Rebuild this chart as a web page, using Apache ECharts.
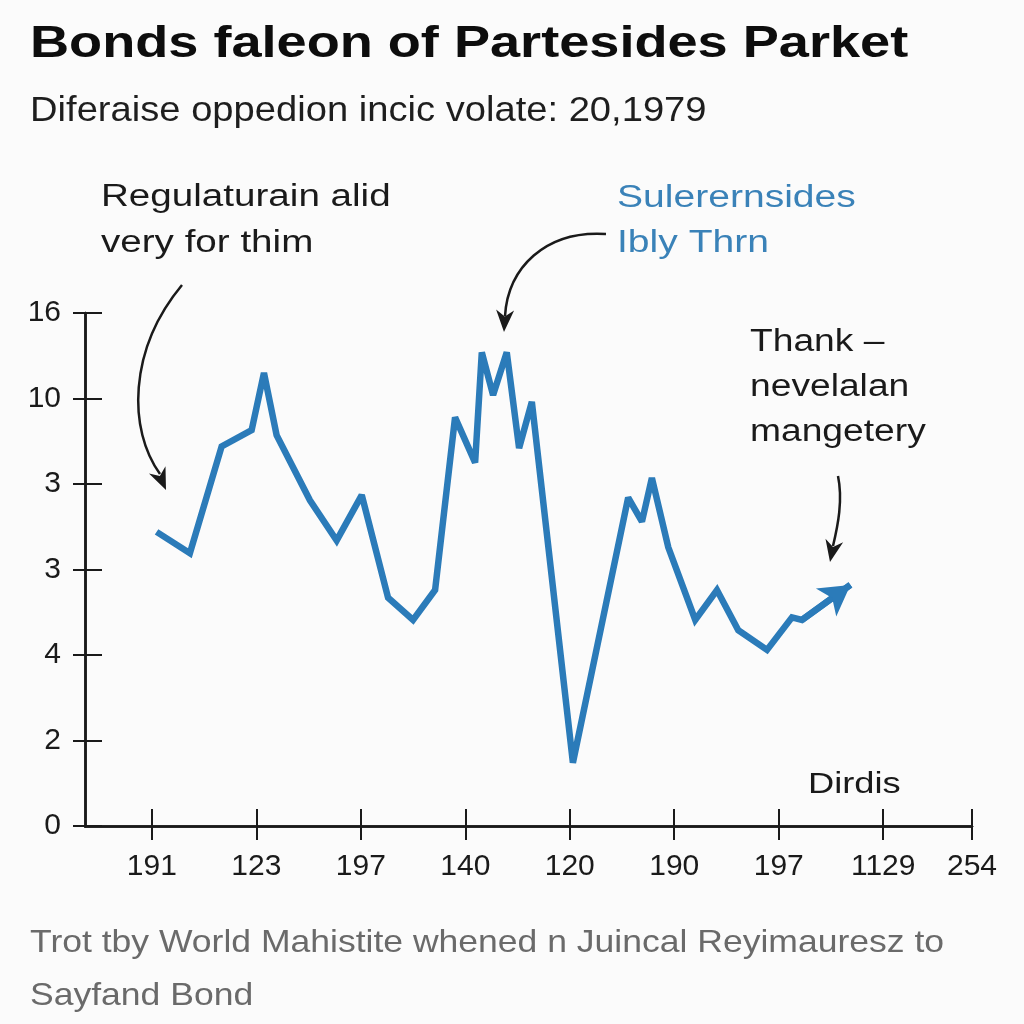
<!DOCTYPE html>
<html>
<head>
<meta charset="utf-8">
<script src="https://cdn.jsdelivr.net/npm/echarts@6/dist/echarts.min.js"></script>
<style>html,body{margin:0;padding:0;background:#fbfbfb;}#c{width:1024px;height:1024px;}</style>
</head>
<body>
<div id="c"></div>
<script>
// ---- data ----
const xValues = [0.045,0.364,0.668,0.955,1.073,1.194,1.513,1.769,2.009,2.261,2.500,2.711,2.902,3.094,3.158,3.266,3.397,3.515,3.637,4.030,4.559,4.691,4.786,4.943,5.201,5.409,5.613,5.888,6.127,6.223,6.686];
const yValues = [3.44,3.19,4.44,4.63,5.30,4.57,3.81,3.34,3.87,2.67,2.41,2.76,4.78,4.25,5.54,5.04,5.54,4.42,4.96,0.74,3.84,3.56,4.07,3.26,2.41,2.76,2.29,2.06,2.44,2.41,2.82];
const xTickValues = [0,1,2,3,4,5,6,7,7.85];
const xTickLabels = ['191','123','197','140','120','190','197','1129','254'];
const yTickLabels = ['0','2','4','3','3','10','16'];

const titleText = 'Bonds faleon of Partesides Parket';
const subtitleText = 'Diferaise oppedion incic volate: 20,1979';
const note1Lines = ['Regulaturain alid', 'very for thim'];
const note2Lines = ['Sulerernsides', 'Ibly Thrn'];
const note3Lines = ['Thank \u2013', 'nevelalan', 'mangetery'];
const axisNote = 'Dirdis';
const captionLines = ['Trot tby World Mahistite whened n Juincal Reyimauresz to', 'Sayfand Bond'];

const seriesData = xValues.map((x, i) => [x, yValues[i]]);
const n = seriesData.length;

const FONT = '"Liberation Sans", Arial, sans-serif';
const LINE = '#2b7bb9';
const INK = '#1a1a1a';

function xLabel(v) {
  for (let i = 0; i < xTickValues.length; i++) {
    if (Math.abs(xTickValues[i] - v) < 0.01) return xTickLabels[i];
  }
  return '';
}

function arrowHead(tx, ty, dx, dy, len, half) {
  const m = Math.sqrt(dx*dx + dy*dy); dx /= m; dy /= m;
  const px = -dy, py = dx;
  const bx = tx - dx*len, by = ty - dy*len;
  const nx = tx - dx*len*0.7, ny = ty - dy*len*0.7;
  return {
    type: 'polygon',
    shape: { points: [[tx,ty],[bx+px*half,by+py*half],[nx,ny],[bx-px*half,by-py*half]] },
    style: { fill: INK }
  };
}

// stretched text line (left edge fixed, vertically centred on y)
function textLine(str, x, y, font, fill, sx) {
  return {
    type: 'text', x: x, y: y, scaleX: sx, scaleY: 1,
    style: { text: str, font: font, fill: fill, align: 'left', verticalAlign: 'middle' }
  };
}

const chart = echarts.init(document.getElementById('c'), null, {renderer: 'canvas'});

const xAxisBase = {
  type: 'value', min: -0.64, max: 7.85,
  axisLine: { show: true, onZero: false, lineStyle: { color: INK, width: 2.5 } },
  splitLine: { show: false }
};
const yAxisBase = {
  type: 'value', min: 0, max: 6, interval: 1,
  axisLine: { show: true, onZero: false, lineStyle: { color: INK, width: 2.5 } },
  splitLine: { show: false }
};

const graphics = [
  textLine(titleText, 30, 45, 'bold 44px ' + FONT, '#0d0d0d', 1.23),
  textLine(subtitleText, 30, 111, '35px ' + FONT, '#1e1e1e', 1.09),
  textLine(axisNote, 808, 785, '30px ' + FONT, INK, 1.21)
];
note1Lines.forEach((s, i) => graphics.push(textLine(s, 101, 197 + i*46, '31px ' + FONT, INK, 1.245)));
note2Lines.forEach((s, i) => graphics.push(textLine(s, 617, 198 + i*45, '31px ' + FONT, '#3a82b8', 1.26)));
note3Lines.forEach((s, i) => graphics.push(textLine(s, 750, 342 + i*45, '31px ' + FONT, INK, 1.2)));
captionLines.forEach((s, i) => graphics.push(textLine(s, 30, 943 + i*53, '32px ' + FONT, '#6a6a6a', 1.11)));

graphics.push(
  { type: 'bezierCurve',
    shape: { x1: 182, y1: 285, cpx1: 128, cpy1: 350, cpx2: 128, cpy2: 430, x2: 160, y2: 474 },
    style: { stroke: INK, lineWidth: 2.5, fill: null } },
  arrowHead(166, 490, 0.4, 0.92, 22, 9),
  { type: 'bezierCurve',
    shape: { x1: 606, y1: 234, cpx1: 545, cpy1: 230, cpx2: 508, cpy2: 268, x2: 505, y2: 316 },
    style: { stroke: INK, lineWidth: 2.5, fill: null } },
  arrowHead(504, 332, -0.05, 1, 22, 9),
  { type: 'bezierCurve',
    shape: { x1: 838, y1: 476, cpx1: 843, cpy1: 500, cpx2: 838, cpy2: 525, x2: 833, y2: 546 },
    style: { stroke: INK, lineWidth: 2.5, fill: null } },
  arrowHead(830, 562, -0.2, 1, 22, 9)
);

chart.setOption({
  backgroundColor: '#fbfbfb',
  animation: false,
  grid: { left: 85, right: 52, top: 313, bottom: 198 },
  xAxis: [
    Object.assign({}, xAxisBase, {
      axisTick: { show: true, customValues: xTickValues, length: 14, lineStyle: { color: INK, width: 2 } },
      axisLabel: { show: true, customValues: xTickValues, formatter: xLabel, margin: 26,
        fontFamily: FONT, fontSize: 30, color: INK }
    }),
    Object.assign({}, xAxisBase, {
      axisTick: { show: true, inside: true, customValues: xTickValues, length: 17, lineStyle: { color: INK, width: 2 } },
      axisLabel: { show: false }, position: 'bottom'
    })
  ],
  yAxis: [
    Object.assign({}, yAxisBase, {
      axisTick: { show: true, length: 12, lineStyle: { color: INK, width: 2 } },
      axisLabel: { show: true, formatter: v => yTickLabels[v], margin: 24,
        fontFamily: FONT, fontSize: 30, color: INK }
    }),
    Object.assign({}, yAxisBase, {
      position: 'left',
      axisTick: { show: true, inside: true, length: 17, lineStyle: { color: INK, width: 2 } },
      axisLabel: { show: false }
    })
  ],
  series: [{
    type: 'line',
    xAxisIndex: 0, yAxisIndex: 0,
    data: seriesData,
    showSymbol: false,
    symbol: 'none',
    lineStyle: { color: LINE, width: 6.5, join: 'miter', miterLimit: 2.5, cap: 'butt' },
    markLine: {
      silent: true,
      animation: false,
      symbol: ['none', 'arrow'],
      symbolSize: [26, 30],
      label: { show: false },
      lineStyle: { color: LINE, width: 6.5, type: 'solid' },
      data: [[
        { coord: seriesData[n-2], symbol: 'none' },
        { coord: seriesData[n-1], symbol: 'arrow' }
      ]]
    }
  }],
  graphic: graphics
});
</script>
</body>
</html>
